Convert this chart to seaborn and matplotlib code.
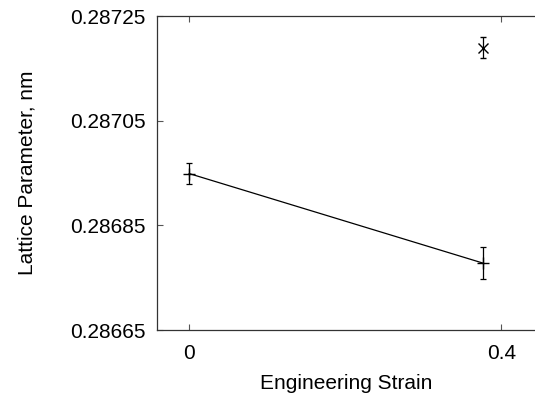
import numpy as np
import pandas as pd
import matplotlib
matplotlib.use("Agg")
import matplotlib.pyplot as plt
import seaborn as sns

# data
strain = [0.0, 0.376]
lattice = [0.286949, 0.286778]
lattice_err = [0.00002, 0.00003]

strain_x = [0.376]
lattice_x = [0.287189]
lattice_x_err = [0.00002]

xticks = [0, 0.4]
yticks = [0.28665, 0.28685, 0.28705, 0.28725]

df = pd.DataFrame({"strain": strain, "lattice": lattice})

sns.set_style("ticks")
plt.rcParams["font.family"] = ["Liberation Sans", "DejaVu Sans"]
plt.rcParams["text.color"] = "black"
plt.rcParams["axes.labelcolor"] = "black"
plt.rcParams["xtick.labelcolor"] = "black"
plt.rcParams["ytick.labelcolor"] = "black"

fig = plt.figure(figsize=(5.35, 4), dpi=100)
ax = fig.add_axes([0.2935, 0.175, 0.7065, 0.785])

sns.lineplot(data=df, x="strain", y="lattice", color="black", lw=0.9,
             marker="+", markersize=9, markeredgewidth=1.0,
             markeredgecolor="black", ax=ax)
ax.errorbar(strain, lattice, yerr=lattice_err, fmt="none", ecolor="black",
            elinewidth=0.9, capsize=2.5, capthick=0.9)
ax.errorbar(strain_x, lattice_x, yerr=lattice_x_err, fmt="x", color="black",
            markersize=7, markeredgewidth=1.0, elinewidth=0.9,
            capsize=2.5, capthick=0.9)

ax.set_xlim(-0.041, 0.443)
ax.set_ylim(0.28665, 0.28725)
ax.set_xticks(xticks)
ax.set_xticklabels(["0", "0.4"])
ax.set_yticks(yticks)
ax.set_yticklabels([f"{v:.5f}" for v in yticks])

for s in ["left", "bottom", "top"]:
    ax.spines[s].set_color("#333333")
    ax.spines[s].set_linewidth(0.9)
ax.spines["right"].set_visible(False)
ax.tick_params(direction="in", length=4, width=0.8, color="#555555",
               labelsize=15, top=True, right=False)
ax.tick_params(axis="x", pad=10)
ax.tick_params(axis="y", pad=8)

ax.set_xlabel("Engineering Strain", fontsize=15, labelpad=8)
ax.set_ylabel("Lattice Parameter, nm", fontsize=15, labelpad=24)

fig.savefig("out.png", dpi=100)
